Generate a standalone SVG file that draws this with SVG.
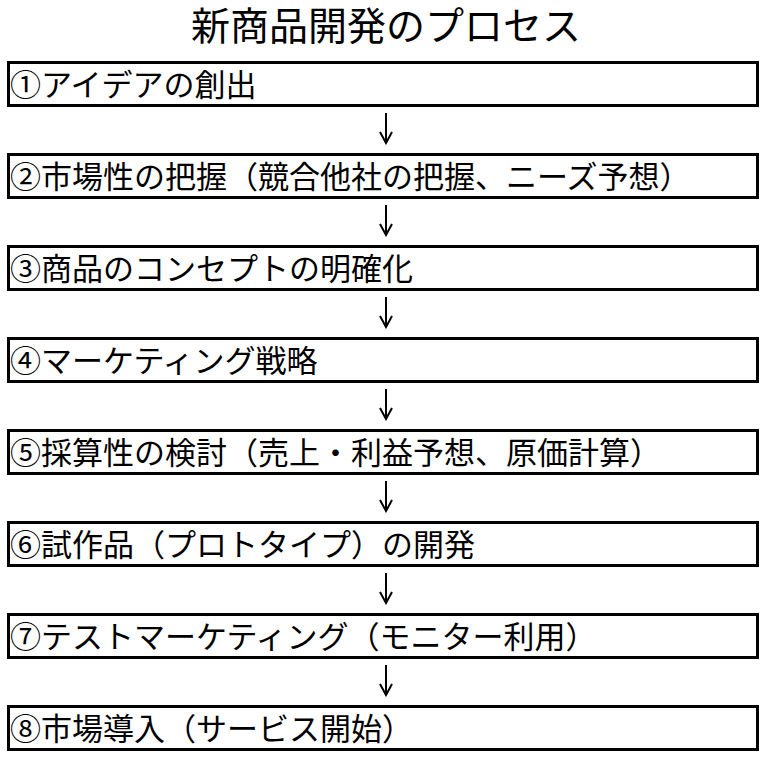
<svg xmlns="http://www.w3.org/2000/svg" width="763" height="758" viewBox="0 0 763 758">
<defs>
<style>
.box{fill:#fff;stroke:#000;stroke-width:3}
.lbl{font-family:"Noto Sans CJK JP","Noto Sans CJK SC",sans-serif;font-size:31px;fill:#000}
.title{font-family:"Noto Sans CJK JP","Noto Sans CJK SC",sans-serif;font-size:39px;fill:#000;text-anchor:middle}
.arr{fill:none;stroke:#000;stroke-width:2}
</style>
<marker id="ah" markerWidth="14" markerHeight="14" refX="12" refY="7" orient="auto" markerUnits="userSpaceOnUse" viewBox="0 0 14 14">
<path d="M1,1 L12,7 L1,13" fill="none" stroke="#000" stroke-width="2"/>
</marker>
</defs>
<rect width="763" height="758" fill="#fff"/>
<text class="title" x="386" y="40">新商品開発のプロセス</text>
<g id="connectors">
<path class="arr" d="M386,113 V143" marker-end="url(#ah)"/>
<path class="arr" d="M386,205 V235" marker-end="url(#ah)"/>
<path class="arr" d="M386,297 V327" marker-end="url(#ah)"/>
<path class="arr" d="M386,389 V419" marker-end="url(#ah)"/>
<path class="arr" d="M386,481 V511" marker-end="url(#ah)"/>
<path class="arr" d="M386,573 V603" marker-end="url(#ah)"/>
<path class="arr" d="M386,665 V695" marker-end="url(#ah)"/>
</g>
<g id="n1"><rect class="box" x="8.5" y="62.5" width="749" height="43"/><text class="lbl" x="10" y="96">①アイデアの創出</text></g>
<g id="n2"><rect class="box" x="8.5" y="154.5" width="749" height="43"/><text class="lbl" x="10" y="188">②市場性の把握（競合他社の把握、ニーズ予想）</text></g>
<g id="n3"><rect class="box" x="8.5" y="246.5" width="749" height="43"/><text class="lbl" x="10" y="280">③商品のコンセプトの明確化</text></g>
<g id="n4"><rect class="box" x="8.5" y="338.5" width="749" height="43"/><text class="lbl" x="10" y="372">④マーケティング戦略</text></g>
<g id="n5"><rect class="box" x="8.5" y="430.5" width="749" height="43"/><text class="lbl" x="10" y="464">⑤採算性の検討（売上・利益予想、原価計算）</text></g>
<g id="n6"><rect class="box" x="8.5" y="522.5" width="749" height="43"/><text class="lbl" x="10" y="556">⑥試作品（プロトタイプ）の開発</text></g>
<g id="n7"><rect class="box" x="8.5" y="614.5" width="749" height="43"/><text class="lbl" x="10" y="648">⑦テストマーケティング（モニター利用）</text></g>
<g id="n8"><rect class="box" x="8.5" y="706.5" width="749" height="43"/><text class="lbl" x="10" y="740">⑧市場導入（サービス開始）</text></g>
</svg>
